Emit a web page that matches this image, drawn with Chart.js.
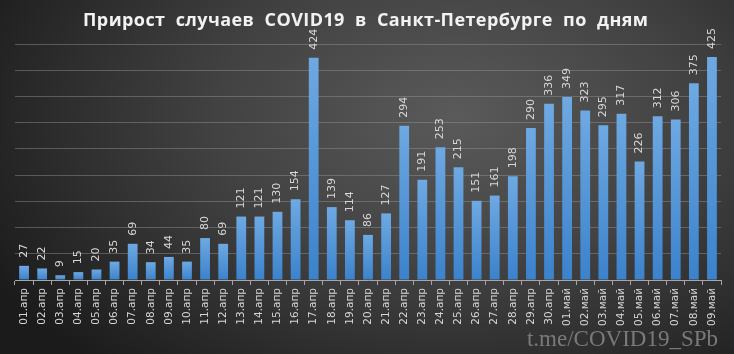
<!DOCTYPE html>
<html><head><meta charset="utf-8">
<script src="https://cdn.jsdelivr.net/npm/chart.js@4"></script>
<style>
html,body{margin:0;padding:0;}
body{width:734px;height:354px;overflow:hidden;background: radial-gradient(ellipse 72% 95% at 62% 33%, #5a5a5a 0%, #424242 45%, #1b1b1b 100%);}
#wrap{position:relative;width:734px;height:354px;}
</style></head>
<body><div id="wrap"><canvas id="c" width="734" height="354"></canvas></div>
<script>
const categories = ["01.апр","02.апр","03.апр","04.апр","05.апр","06.апр","07.апр","08.апр","09.апр","10.апр",
"11.апр","12.апр","13.апр","14.апр","15.апр","16.апр","17.апр","18.апр","19.апр","20.апр",
"21.апр","22.апр","23.апр","24.апр","25.апр","26.апр","27.апр","28.апр","29.апр","30.апр",
"01.май","02.май","03.май","04.май","05.май","06.май","07.май","08.май","09.май"];
const cases = [27,22,9,15,20,35,69,34,44,35,80,69,121,121,130,154,424,139,114,86,
127,294,191,253,215,151,161,198,290,336,349,323,295,317,226,312,306,375,425];
const yTicks = [0,50,100,150,200,250,300,350,400,450];
const titleText = "Прирост  случаев  COVID19  в  Санкт-Петербурге  по  дням";
const watermark = "t.me/COVID19_SPb";

const deco = {
  id:'deco',
  afterDatasetsDraw(chart){
    const ctx = chart.ctx;
    const meta = chart.getDatasetMeta(0);
    ctx.save();
    ctx.fillStyle = '#d8d8d8';
    ctx.font = '11px "DejaVu Sans", sans-serif';
    ctx.textAlign = 'left';
    ctx.textBaseline = 'middle';
    meta.data.forEach((bar,i)=>{
      ctx.save();
      ctx.translate(bar.x, bar.y - 8);
      ctx.rotate(-Math.PI/2);
      ctx.fillText(String(cases[i]), 0, 0);
      ctx.restore();
    });
    ctx.restore();
  },
  afterDraw(chart){
    const ctx = chart.ctx;
    ctx.save();
    ctx.fillStyle = '#f2f2f2';
    ctx.font = 'bold 18px "Open Sans", sans-serif';
    ctx.textBaseline = 'alphabetic';
    ctx.textAlign = 'left';
    const w0 = ctx.measureText(titleText).width;
    const target = 565;
    const n = titleText.length - 1;
    const ls = (target - w0) / n;
    ctx.letterSpacing = ls + 'px';
    ctx.fillText(titleText, 83, 26);
    ctx.letterSpacing = '0px';
    ctx.fillStyle = '#7a7a7a';
    ctx.font = '23px "Liberation Serif", serif';
    ctx.textAlign = 'right';
    ctx.fillText(watermark, 718, 346);
    ctx.restore();
  }
};

new Chart(document.getElementById('c'), {
  type:'bar',
  data:{labels:categories, datasets:[{data:cases,
    backgroundColor:(c)=>{
      const chart=c.chart; const y=chart.scales&&chart.scales.y;
      if(!y || c.dataIndex===undefined || !chart.chartArea) return '#4a90d9';
      const top=y.getPixelForValue(cases[c.dataIndex]); const bot=y.getPixelForValue(0);
      if(!isFinite(top)||!isFinite(bot)||bot-top<1) return '#4a90d9';
      const g=chart.ctx.createLinearGradient(0,top,0,bot);
      g.addColorStop(0,'#6ea9e2'); g.addColorStop(1,'#3b82cc');
      return g;
    },
    borderWidth:0, barPercentage:0.54, categoryPercentage:1}]},
  options:{
    responsive:false, animation:false,
    layout:{padding:{top:44,left:0,right:13,bottom:0}},
    plugins:{legend:{display:false}, tooltip:{enabled:false}, title:{display:false}},
    scales:{
      x:{
        grid:{display:true, offset:true, drawOnChartArea:false, drawTicks:true, tickLength:5, color:'#a6a6a6'},
        border:{display:true, color:'#a6a6a6', width:1},
        ticks:{color:'#d6d6d6', font:{family:'"DejaVu Sans", sans-serif', size:10.5}, maxRotation:90, minRotation:90, autoSkip:false, padding:3},
        afterFit:(s)=>{s.height=74;}
      },
      y:{
        min:0, max:450,
        afterBuildTicks:(s)=>{s.ticks=yTicks.map(v=>({value:v}));},
        grid:{color:'rgba(150,150,150,0.45)', drawTicks:false, lineWidth:1},
        border:{display:false},
        ticks:{display:false},
        afterFit:(s)=>{s.width=15;}
      }
    }
  },
  plugins:[deco]
});
</script></body></html>
